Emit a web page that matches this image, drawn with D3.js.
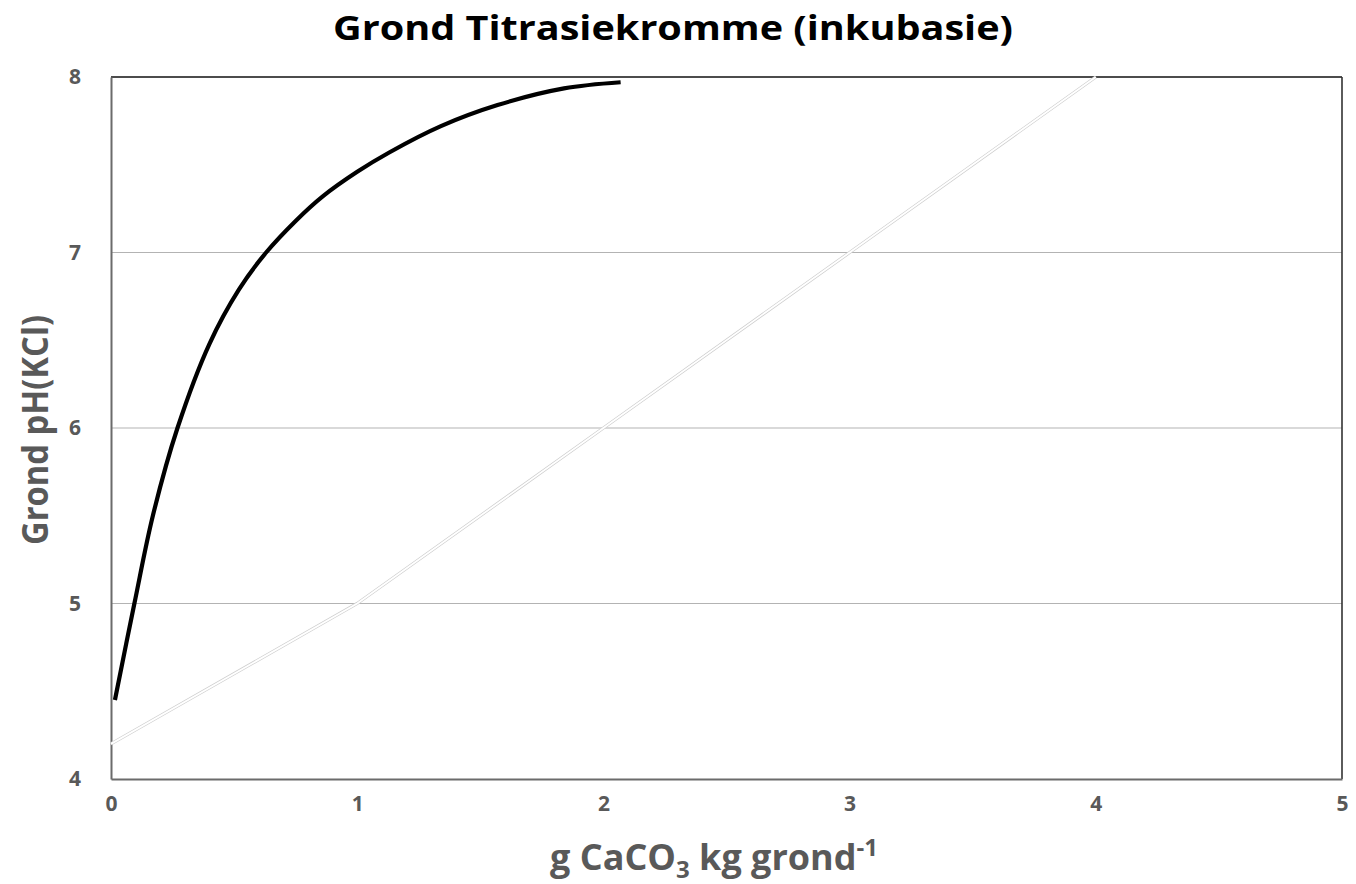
<!DOCTYPE html>
<html>
<head>
<meta charset="utf-8">
<script src="https://cdn.jsdelivr.net/npm/d3@7"></script>
<style>
  html, body { margin: 0; padding: 0; background: #fff; }
  svg { display: block; }
  text { font-family: "Open Sans", "Noto Sans", sans-serif; font-weight: 700; }
</style>
</head>
<body>
<svg id="chart" width="1356" height="884"></svg>
<script>
// Titration curve: lime added (g CaCO3 per kg soil) vs soil pH(KCl)
const titrationX = [0.016, 0.095, 0.17, 0.27, 0.40, 0.52, 0.63, 0.75, 0.86, 1.00, 1.13, 1.34, 1.57, 1.84, 2.07];
const titrationPH = [4.45, 5.00, 5.50, 6.00, 6.48, 6.79, 7.00, 7.18, 7.32, 7.46, 7.57, 7.72, 7.84, 7.935, 7.97];

// Reference line drawn as a faint white stroke
const refX = [0, 1, 2, 3, 4];
const refPH = [4.2, 5.0, 6.0, 7.0, 8.0];

const xTicks = [0, 1, 2, 3, 4, 5];
const yTicks = [4, 5, 6, 7, 8];

const titleText = "Grond Titrasiekromme (inkubasie)";
const yTitle = "Grond pH(KCl)";

const svg = d3.select("#chart");
const margin = { left: 111, right: 14, top: 77, bottom: 105 };
const W = 1356, H = 884;

const x = d3.scaleLinear().domain([0, 5]).range([margin.left, W - margin.right]);
const y = d3.scaleLinear().domain([4, 8]).range([H - margin.bottom, margin.top]);

// horizontal gridlines
svg.append("g")
  .selectAll("line")
  .data(yTicks.filter(d => d > 4 && d < 8))
  .join("line")
  .attr("x1", x(0)).attr("x2", x(5))
  .attr("y1", d => y(d)).attr("y2", d => y(d))
  .attr("stroke", "#b3b3b3").attr("stroke-width", 1.2);

// plot frame (top and right)
svg.append("line").attr("x1", x(0)).attr("x2", x(5)).attr("y1", y(8)).attr("y2", y(8))
  .attr("stroke", "#111").attr("stroke-width", 1.6);
svg.append("line").attr("x1", x(5)).attr("x2", x(5)).attr("y1", y(8)).attr("y2", y(4))
  .attr("stroke", "#333").attr("stroke-width", 1.6);

// axes
const xAxis = svg.append("g").attr("transform", `translate(0,${y(4)})`)
  .call(d3.axisBottom(x).tickValues(xTicks).tickSize(0).tickPadding(28).tickFormat(d3.format("d")));
const yAxis = svg.append("g").attr("transform", `translate(${x(0)},0)`)
  .call(d3.axisLeft(y).tickValues(yTicks).tickSize(0).tickPadding(30).tickFormat(d3.format("d")));

[xAxis, yAxis].forEach(g => {
  g.select(".domain").attr("stroke", "#6b6b6b").attr("stroke-width", 2);
  g.selectAll("text")
    .attr("fill", "#595959")
    .style("font-size", "21px")
    .style("font-family", "'Open Sans', sans-serif")
    .style("font-weight", "700");
});
xAxis.selectAll("text").attr("dy", "0.2em");

// reference line: faint outline with white core
const refData = refX.map((v, i) => [v, refPH[i]]);
const refLine = d3.line().x(d => x(d[0])).y(d => y(d[1]));
svg.append("path").attr("d", refLine(refData))
  .attr("fill", "none").attr("stroke", "#cfcfcf").attr("stroke-width", 3.2);
svg.append("path").attr("d", refLine(refData))
  .attr("fill", "none").attr("stroke", "#ffffff").attr("stroke-width", 1.8);

// titration curve
const curveData = titrationX.map((v, i) => [v, titrationPH[i]]);
const curveLine = d3.line().x(d => x(d[0])).y(d => y(d[1])).curve(d3.curveCatmullRom.alpha(0.5));
svg.append("path").attr("d", curveLine(curveData))
  .attr("fill", "none").attr("stroke", "#000").attr("stroke-width", 4.2)
  .attr("stroke-linecap", "butt");

// title
svg.append("text")
  .attr("x", 673).attr("y", 40)
  .attr("text-anchor", "middle")
  .attr("fill", "#000")
  .style("font-size", "34px")
  .attr("textLength", 680).attr("lengthAdjust", "spacingAndGlyphs")
  .text(titleText);

// y axis title
svg.append("text")
  .attr("transform", `translate(48,430) rotate(-90)`)
  .attr("text-anchor", "middle")
  .attr("fill", "#595959")
  .style("font-size", "35px")
  .attr("textLength", 230).attr("lengthAdjust", "spacingAndGlyphs")
  .text(yTitle);

// x axis title with subscript and superscript
const xt = svg.append("text")
  .attr("x", 714).attr("y", 870)
  .attr("text-anchor", "middle")
  .attr("fill", "#595959")
  .style("font-size", "36px");
xt.append("tspan").text("g CaCO");
xt.append("tspan").attr("dy", 8).style("font-size", "24px").text("3");
xt.append("tspan").attr("dy", -8).text(" kg grond");
xt.append("tspan").attr("dy", -14).style("font-size", "24px").text("-1");
</script>
</body>
</html>
